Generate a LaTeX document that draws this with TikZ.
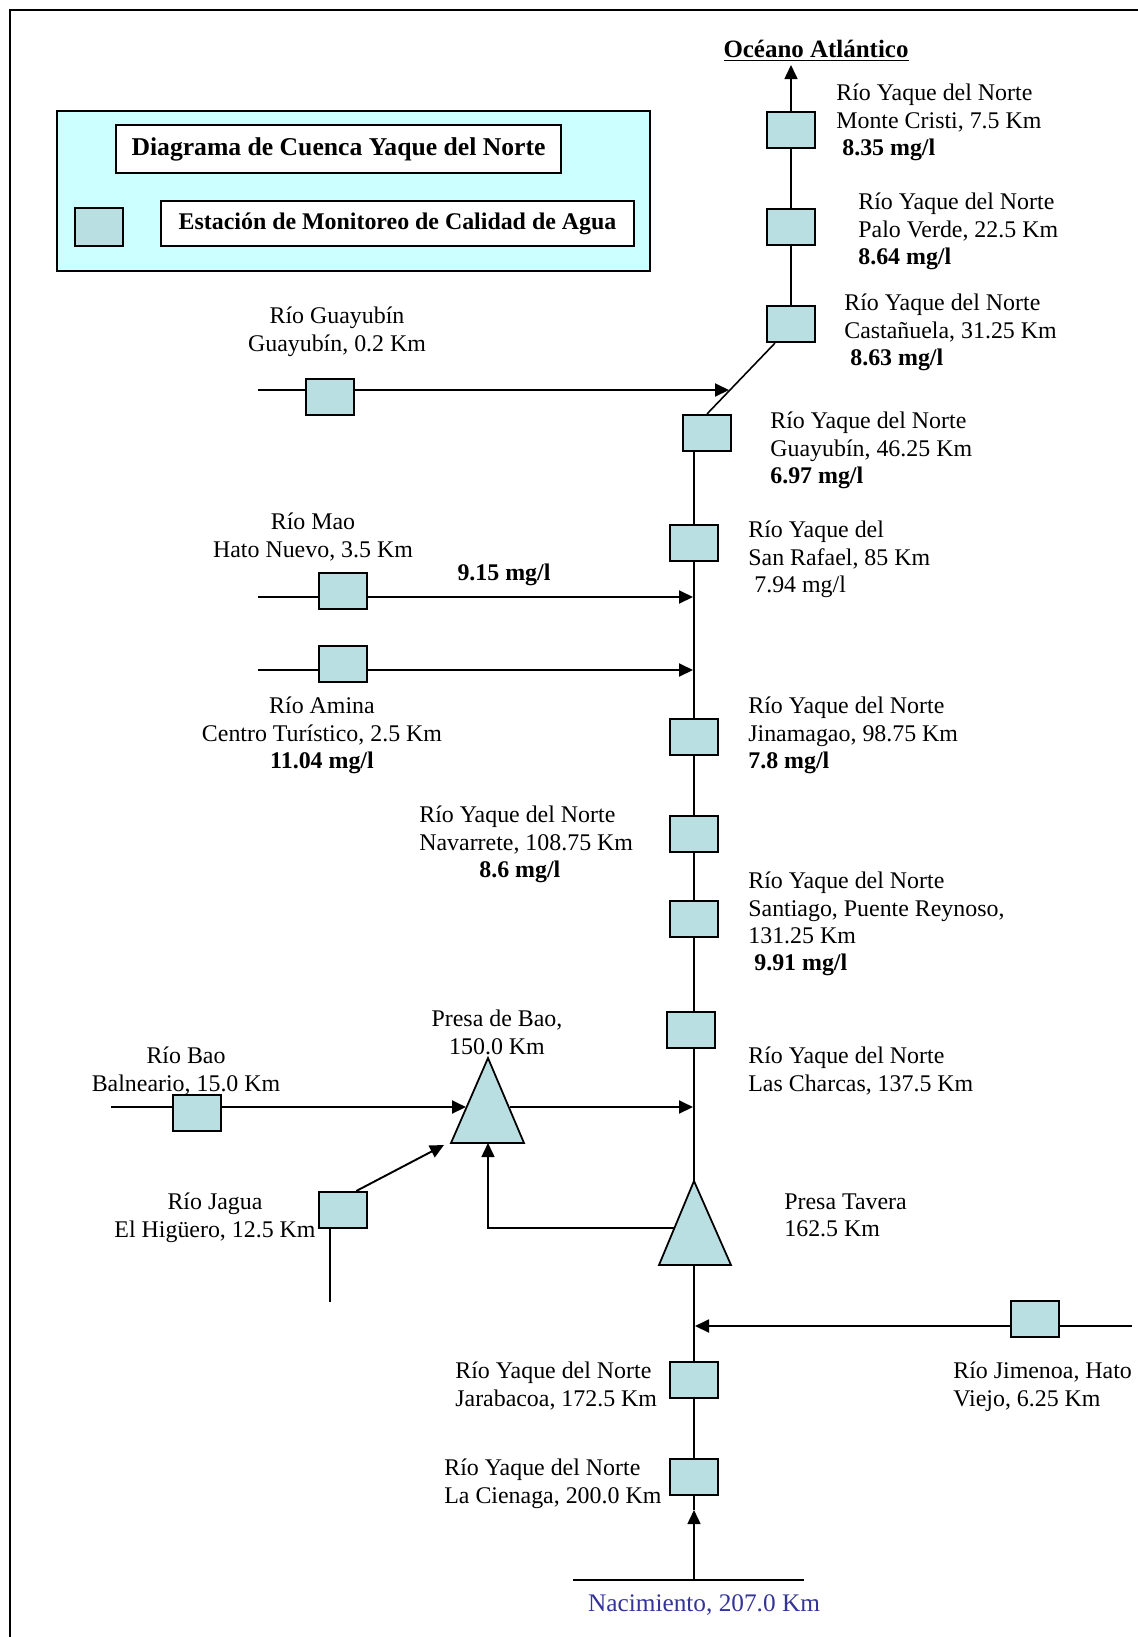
\documentclass[tikz,border=0pt]{standalone}
\usepackage{fontspec}
\setmainfont{Liberation Serif}
\usepackage{xcolor}
\usetikzlibrary{arrows.meta}
\definecolor{stationfill}{RGB}{185,223,226}
\definecolor{legendfill}{RGB}{204,255,255}
\definecolor{sourceblue}{RGB}{51,51,153}

\begin{document}
\begin{tikzpicture}[
    x=0.02cm, y=-0.02cm,
    font=\fontsize{13.6}{15.4}\selectfont,
    station/.style={rectangle, draw, line width=1.2pt, fill=stationfill, minimum width=0.96cm, minimum height=0.72cm, inner sep=0pt},
    label/.style={align=left, anchor=north west, inner sep=0pt},
    clabel/.style={align=center, anchor=north, inner sep=0pt},
    river/.style={line width=0.9pt},
    flow/.style={line width=1.1pt, -{Triangle[length=0.28cm, width=0.26cm]}},
    dam/.style={draw, line width=1pt, fill=stationfill}
]
    \useasboundingbox (0,0) rectangle (1138,1637);
    \draw[line width=1pt] (1138,10) -- (10,10) -- (10,1637);

    % legend
    \draw[line width=1pt, fill=legendfill] (57,111) rectangle (650,271);
    \node[draw, fill=white, line width=1.2pt, minimum width=8.9cm, minimum height=0.96cm, font=\fontsize{14.6}{16.5}\selectfont\bfseries] (legendtitle) at (338.5,149) {Diagrama de Cuenca Yaque del Norte};
    \node[station, minimum height=0.76cm] (legendstation) at (99,227) {};
    \node[draw, fill=white, line width=1.2pt, minimum width=9.46cm, minimum height=0.9cm, font=\fontsize{13.6}{15.4}\selectfont\bfseries] (legendtext) at (397.5,223.5) {Estación de Monitoreo de Calidad de Agua};

    % stations on the main river
    \node[station] (montecristi) at (791,130) {};
    \node[station] (paloverde) at (791,227) {};
    \node[station] (castanuela) at (791,324) {};
    \node[station] (guayubin) at (707,433) {};
    \node[station] (sanrafael) at (694,543) {};
    \node[station] (jinamagao) at (694,737) {};
    \node[station] (navarrete) at (694,834) {};
    \node[station] (santiago) at (694,919) {};
    \node[station] (charcas) at (691,1030) {};
    \node[station] (jarabacoa) at (694,1380) {};
    \node[station] (cienaga) at (694,1477) {};

    % stations on the tributaries
    \node[station] (guayubintrib) at (330,397) {};
    \node[station] (mao) at (343,591) {};
    \node[station] (amina) at (343,664) {};
    \node[station] (bao) at (197,1113) {};
    \node[station] (jagua) at (343,1210) {};
    \node[station] (jimenoa) at (1035,1319) {};

    % dams
    \draw[dam] (488,1058) -- (524,1143) -- (451,1143) -- cycle;
    \draw[dam] (694,1181) -- (731,1265) -- (659,1265) -- cycle;
    \coordinate (baotop) at (488,1058);
    \coordinate (baobase) at (488,1143);
    \coordinate (baoleft) at (466,1107);
    \coordinate (baoright) at (510,1107);
    \coordinate (baoin) at (444,1145);
    \coordinate (taveratop) at (694,1181);
    \coordinate (taverabase) at (694,1265);
    \coordinate (taveraleft) at (674,1228);

    % free ends
    \coordinate (ocean) at (791,65);
    \coordinate (guayubinstart) at (258,390);
    \coordinate (guayubinend) at (729,390);
    \coordinate (maostart) at (258,597);
    \coordinate (maoend) at (693,597);
    \coordinate (aminastart) at (258,670);
    \coordinate (aminaend) at (693,670);
    \coordinate (baostart) at (111,1107);
    \coordinate (charcasend) at (693,1107);
    \coordinate (jaguastart) at (330,1302);
    \coordinate (jimenoastart) at (1132,1326);
    \coordinate (jimenoaend) at (695,1326);
    \coordinate (source) at (694,1580);
    \coordinate (sourcein) at (694,1510);

    % main river
    \draw[flow, line width=0.9pt] (montecristi.north) -- (ocean);
    \draw[river] (montecristi.south) -- (paloverde.north);
    \draw[river] (paloverde.south) -- (castanuela.north);
    \draw[river] (castanuela.-130) -- (guayubin.north);
    \draw[river] (guayubin.south -| sanrafael) -- (sanrafael.north);
    \draw[river] (sanrafael.south) -- (jinamagao.north);
    \draw[river] (jinamagao.south) -- (navarrete.north);
    \draw[river] (navarrete.south) -- (santiago.north);
    \draw[river] (santiago.south) -- (santiago.south |- charcas.north);
    \draw[river] (charcas.south -| santiago) -- (taveratop);
    \draw[river] (taverabase) -- (jarabacoa.north);
    \draw[river] (jarabacoa.south) -- (cienaga.north);
    \draw[river] (cienaga.south) -- (sourcein);
    \draw[flow, line width=0.9pt] (source) -- (sourcein);
    \draw[line width=1.3pt] (573,1580) -- (source) -- (804,1580);

    % tributaries
    \draw[river, line width=1.1pt] (guayubinstart) -- (guayubinstart -| guayubintrib.west);
    \draw[flow] (guayubinstart -| guayubintrib.east) -- (guayubinend);
    \draw[river, line width=1.1pt] (maostart) -- (maostart -| mao.west);
    \draw[flow] (maostart -| mao.east) -- (maoend);
    \draw[river, line width=1.1pt] (aminastart) -- (aminastart -| amina.west);
    \draw[flow] (aminastart -| amina.east) -- (aminaend);
    \draw[river, line width=1.1pt] (baostart) -- (baostart -| bao.west);
    \draw[flow] (baostart -| bao.east) -- (baoleft);
    \draw[flow] (baoright) -- (charcasend);
    \draw[flow] (jagua.55) -- (baoin);
    \draw[river] (jaguastart) -- (jaguastart |- jagua.south);
    \draw[flow, line width=0.9pt] (taveraleft) -- (taveraleft -| baobase) -- (baobase);
    \draw[river, line width=1.1pt] (jimenoastart) -- (jimenoastart -| jimenoa.east);
    \draw[flow] (jimenoastart -| jimenoa.west) -- (jimenoaend);

    % labels
    \node[clabel, font=\fontsize{14.2}{16}\selectfont\bfseries] (oceantext) at (816,40) {\underline{Océano Atlántico}};
    \node[label] (montecristitext) at (836,84) {Río Yaque del Norte\\Monte Cristi, 7.5 Km\\\hspace*{0.12cm}\textbf{8.35 mg/l}};
    \node[label] (paloverdetext) at (858,193) {Río Yaque del Norte\\Palo Verde, 22.5 Km\\\textbf{8.64 mg/l}};
    \node[label] (castanuelatext) at (844,294) {Río Yaque del Norte\\Castañuela, 31.25 Km\\\hspace*{0.12cm}\textbf{8.63 mg/l}};
    \node[label] (guayubintext) at (770,412) {Río Yaque del Norte\\Guayubín, 46.25 Km\\\textbf{6.97 mg/l}};
    \node[label] (sanrafaeltext) at (748,521) {Río Yaque del\\San Rafael, 85 Km\\\hspace*{0.12cm}7.94 mg/l};
    \node[label] (jinamagaotext) at (748,697) {Río Yaque del Norte\\Jinamagao, 98.75 Km\\\textbf{7.8 mg/l}};
    \node[label] (navarretetext) at (419,806) {Río Yaque del Norte\\Navarrete, 108.75 Km\\\hspace*{1.2cm}\textbf{8.6 mg/l}};
    \node[label] (santiagotext) at (748,872) {Río Yaque del Norte\\Santiago, Puente Reynoso,\\131.25 Km\\\hspace*{0.12cm}\textbf{9.91 mg/l}};
    \node[label] (charcastext) at (748,1047) {Río Yaque del Norte\\Las Charcas, 137.5 Km};
    \node[clabel] (presabaotext) at (497,1010) {Presa de Bao,\\150.0 Km};
    \node[clabel] (baotext) at (186,1047) {Río Bao\\Balneario, 15.0 Km};
    \node[clabel] (jaguatext) at (215,1193) {Río Jagua\\El Higüero, 12.5 Km};
    \node[label] (taveratext) at (784,1193) {Presa Tavera\\162.5 Km};
    \node[label] (jimenoatext) at (953,1362) {Río Jimenoa, Hato\\Viejo, 6.25 Km};
    \node[label] (jarabacoatext) at (455,1362) {Río Yaque del Norte\\Jarabacoa, 172.5 Km};
    \node[label] (cienagatext) at (444,1459) {Río Yaque del Norte\\La Cienaga, 200.0 Km};
    \node[clabel] (guayubintribtext) at (337,307) {Río Guayubín\\Guayubín, 0.2 Km};
    \node[clabel] (maotext) at (313,513) {Río Mao\\Hato Nuevo, 3.5 Km};
    \node[clabel, font=\fontsize{13.6}{15.4}\selectfont\bfseries] (maovalue) at (504,564) {9.15 mg/l};
    \node[clabel] (aminatext) at (322,697) {Río Amina\\Centro Turístico, 2.5 Km\\\textbf{11.04 mg/l}};
    \node[clabel, text=sourceblue, font=\fontsize{14.4}{16}\selectfont] (sourcetext) at (704,1594) {Nacimiento, 207.0 Km};
\end{tikzpicture}
\end{document}
